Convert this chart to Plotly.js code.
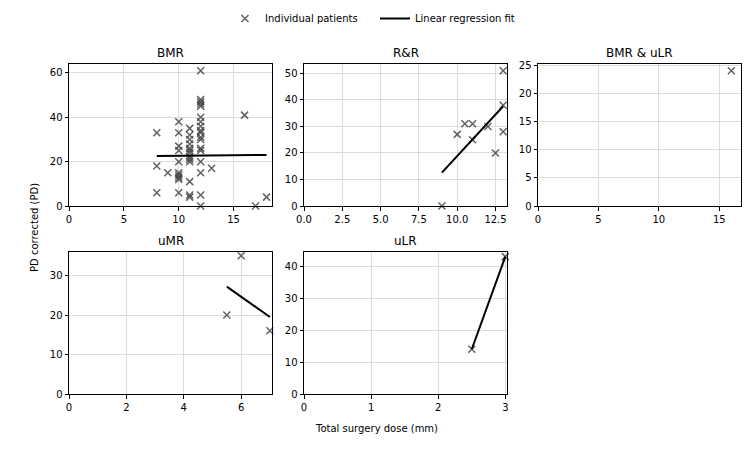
<!DOCTYPE html>
<html>
<head>
<meta charset="utf-8">
<script src="https://cdn.plot.ly/plotly-3.0.1.min.js"></script>
<style>html,body{margin:0;padding:0;background:#fff}#chart{width:750px;height:450px}</style>
</head>
<body>
<div id="chart"></div>
<script>
// ---- data ----
const panelNames = ["BMR", "R&R", "BMR & uLR", "uMR", "uLR"];

const bmrX = [8,8,8, 9,
  10,10,10,10,10,10,10,10,10,10,
  11,11,11,11,11,11,11,11,11,11,11,11,11,
  12,12,12,12,12,12,12,12,12,12,12,12,12,12,12,12,12,12,
  13, 16, 17, 18];
const bmrY = [33,18,6, 15,
  38,33,27,25,20,15,14,13,12,6,
  35,32,30,28,26,25,24,22,21,20,11,5,4,
  61,48,47,46,45,40,38,36,34,33,31,30,26,25,20,15,5,0,
  17, 41, 0, 4];
const bmrFitX = [8, 18];
const bmrFitY = [22.6, 23.0];

const rrX = [9, 10, 10.5, 11, 11, 12, 12.5, 13, 13, 13];
const rrY = [0, 27, 31, 31, 25, 30, 20, 51, 38, 28];
const rrFitX = [9, 13];
const rrFitY = [12.6, 37.6];

const bmrUlrX = [16];
const bmrUlrY = [24];

const umrX = [5.5, 6, 7];
const umrY = [20, 35, 16];
const umrFitX = [5.5, 7];
const umrFitY = [27.2, 19.5];

const ulrX = [2.5, 3];
const ulrY = [14, 43];
const ulrFitX = [2.5, 3];
const ulrFitY = [14, 43];

// axis ranges / ticks
const xRanges = [[0, 18.5], [0, 13.25], [0, 16.8], [0, 7.075], [0, 3.025]];
const yRanges = [[0, 64.05], [0, 53.55], [0, 25.2], [0, 35.95], [0, 44.45]];
const xTicks = [[0,5,10,15], [0,2.5,5,7.5,10,12.5], [0,5,10,15], [0,2,4,6], [0,1,2,3]];
const yTicks = [[0,20,40,60], [0,10,20,30,40,50], [0,5,10,15,20,25], [0,10,20,30], [0,10,20,30,40]];
const xTickText = [["0","5","10","15"], ["0.0","2.5","5.0","7.5","10.0","12.5"], ["0","5","10","15"], ["0","2","4","6"], ["0","1","2","3"]];

// ---- layout geometry (pixels) ----
const W = 750, H = 450;
const cols = [[69, 272], [304, 507], [538, 741]];
const rows = [[64, 206], [252, 394]];
const pos = [[0,0],[0,1],[0,2],[1,0],[1,1]];

const markerStyle = {symbol: "x-thin-open", size: 7, line: {width: 1.5, color: "rgba(60,60,60,0.8)"}, color: "rgba(60,60,60,0.8)"};
const lineStyle = {color: "#000", width: 2};

const pts = [[bmrX,bmrY],[rrX,rrY],[bmrUlrX,bmrUlrY],[umrX,umrY],[ulrX,ulrY]];
const fits = [[bmrFitX,bmrFitY],[rrFitX,rrFitY],null,[umrFitX,umrFitY],[ulrFitX,ulrFitY]];

const traces = [];
const layout = {
  width: W, height: H,
  margin: {l:0, r:0, t:0, b:0},
  paper_bgcolor: "#fff", plot_bgcolor: "#fff",
  font: {family: "DejaVu Sans", size: 10, color: "#000"},
  showlegend: true,
  legend: {orientation: "h", x: 225/W, xanchor: "left", y: 1 - 4/H, yanchor: "top",
           entrywidth: 105, entrywidthmode: "pixels", itemwidth: 30,
           font: {family: "DejaVu Sans", size: 10}, bgcolor: "rgba(0,0,0,0)", traceorder: "normal"},
  annotations: [], shapes: []
};

pos.forEach((p, i) => {
  const n = i === 0 ? "" : String(i + 1);
  const xa = "x" + n, ya = "y" + n;
  const [c0, c1] = cols[p[1]];
  const [r0, r1] = rows[p[0]];
  traces.push({
    type: "scatter", mode: "markers", x: pts[i][0], y: pts[i][1], xaxis: xa, yaxis: ya,
    marker: markerStyle, name: "Individual patients", legendgroup: "pts",
    showlegend: i === 0, cliponaxis: false, hoverinfo: "x+y"
  });
  if (fits[i]) {
    traces.push({
      type: "scatter", mode: "lines", x: fits[i][0], y: fits[i][1], xaxis: xa, yaxis: ya,
      line: lineStyle, name: "Linear regression fit", legendgroup: "fit",
      showlegend: i === 0, cliponaxis: false
    });
  }
  const axCommon = {
    showline: true, mirror: true, linecolor: "#000", linewidth: 1,
    ticks: "outside", ticklen: 3.5, tickwidth: 1, tickcolor: "#000",
    showgrid: true, gridcolor: "#dcdcdc", gridwidth: 1, zeroline: false,
    tickfont: {family: "DejaVu Sans", size: 10, color: "#000"}, fixedrange: true
  };
  layout["xaxis" + n] = Object.assign({}, axCommon, {
    domain: [c0 / W, c1 / W], anchor: ya, range: xRanges[i],
    tickmode: "array", tickvals: xTicks[i], ticktext: xTickText[i]
  });
  layout["yaxis" + n] = Object.assign({}, axCommon, {
    domain: [1 - r1 / H, 1 - r0 / H], anchor: xa, range: yRanges[i],
    tickmode: "array", tickvals: yTicks[i]
  });
  layout.annotations.push({
    text: panelNames[i], xref: "paper", yref: "paper",
    x: (c0 + c1) / 2 / W, y: 1 - (r0 - 2) / H, xanchor: "center", yanchor: "bottom",
    showarrow: false, font: {family: "DejaVu Sans", size: 12, color: "#000"}
  });
});

layout.annotations.push({
  text: "PD corrected (PD)", xref: "paper", yref: "paper",
  x: 34 / W, y: 1 - 228 / H, xanchor: "center", yanchor: "middle", textangle: -90,
  showarrow: false, font: {family: "DejaVu Sans", size: 10, color: "#000"}
});
layout.annotations.push({
  text: "Total surgery dose (mm)", xref: "paper", yref: "paper",
  x: 376 / W, y: 1 - 428 / H, xanchor: "center", yanchor: "middle",
  showarrow: false, font: {family: "DejaVu Sans", size: 10, color: "#000"}
});

Plotly.newPlot("chart", traces, layout, {staticPlot: true, displayModeBar: false});
</script>
</body>
</html>
